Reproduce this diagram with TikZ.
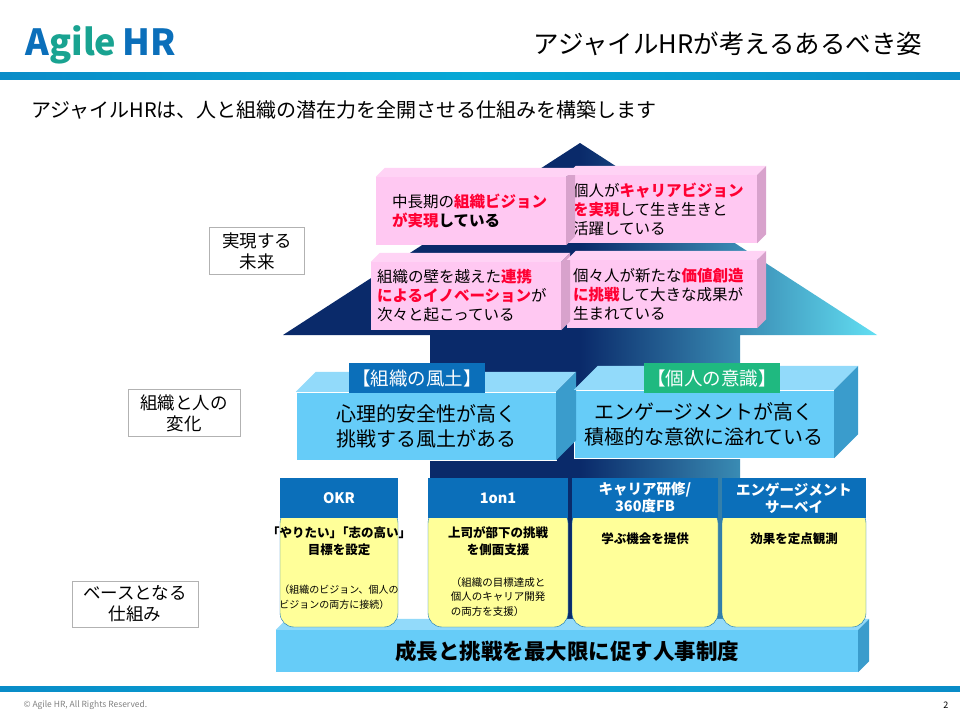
\documentclass[tikz,border=0pt]{standalone}
\usepackage{fontspec}
\setmainfont{Noto Sans CJK JP}
\usetikzlibrary{positioning}
\definecolor{navy}{HTML}{0A2A6A}
\definecolor{skyc}{HTML}{66E6F8}
\definecolor{hrblue}{HTML}{0B6FBA}
\definecolor{hrgreen}{HTML}{1FB980}
\definecolor{pinkf}{HTML}{FFC8F2}
\definecolor{pinks}{HTML}{D8A2CC}
\definecolor{bluef}{HTML}{66CCF8}
\definecolor{bluet}{HTML}{92DAFA}
\definecolor{blues}{HTML}{3A9CCC}
\definecolor{yel}{HTML}{FFFF99}
\definecolor{hot}{HTML}{FF0033}
\pgfdeclarehorizontalshading{arrowshade}{100bp}{color(0bp)=(navy); color(50bp)=(navy); color(76bp)=(skyc); color(100bp)=(skyc)}
\pgfdeclarehorizontalshading{barshade}{100bp}{color(0bp)=(hrblue); color(50bp)=(hrblue!60!cyan); color(100bp)=(hrblue)}
% 3D faces on a named front node: #1 node, #2 depth, #3 top colour, #4 side colour
\newcommand\slabfaces[4]{%
  \fill[#3] (#1.north west) -- ++(#2,-#2) -- ([shift={(#2,-#2)}]#1.north east) -- (#1.north east) -- cycle;
  \fill[#4] (#1.north east) -- ++(#2,-#2) -- ([shift={(#2,-#2)}]#1.south east) -- (#1.south east) -- cycle;
}
\begin{document}
\begin{tikzpicture}[x=1pt,y=-1pt,
	label/.style={
		rectangle,
		draw=gray!60,
		fill=white,
		align=center,
		font=\fontsize{17.5}{21}\selectfont,
		inner sep=5pt
	},
	pinkbox/.style={
		rectangle,
		fill=pinkf,
		align=left,
		text width=178pt,
		inner xsep=5pt,
		minimum width=190pt,
		minimum height=68pt,
		font=\fontsize{15.5}{19}\selectfont
	},
	bluebox/.style={
		rectangle,
		fill=bluef,
		draw=white,
		align=center,
		minimum width=260pt,
		minimum height=68pt,
		font=\fontsize{20}{25}\selectfont
	},
	tag/.style={
		rectangle,
		text=white,
		minimum width=132pt,
		minimum height=30pt,
		font=\fontsize{18.5}{20}\selectfont
	},
	head/.style={
		rectangle,
		fill=hrblue,
		text=white,
		align=center,
		minimum height=40pt,
		font=\bfseries\fontsize{14.5}{17}\selectfont
	},
	body/.style={
		rectangle,
		fill=yel,
		draw=hrblue,
		rounded corners=14pt,
		minimum height=118pt
	},
	small/.style={
		align=center,
		font=\bfseries\fontsize{12.5}{17}\selectfont
	},
	note/.style={
		align=left,
		font=\fontsize{10.5}{14.5}\selectfont
	}
]
\useasboundingbox (0,0) rectangle (960,720);

% Header
\node[anchor=west, font=\bfseries\fontsize{36}{36}\selectfont] (logo) at (22,45)
	{\textcolor{hrblue}{A}\textcolor{hrgreen!70!hrblue}{gile}\,\textcolor{hrblue}{HR}};
\node[anchor=east, font=\fontsize{25.5}{28}\selectfont] (title) at (926,44) {アジャイルHRが考えるあるべき姿};
\shade[shading=barshade] (0,72) rectangle (960,79);
\node[anchor=west, font=\fontsize{20}{24}\selectfont] (lead) at (28,110) {アジャイルHRは、人と組織の潜在力を全開させる仕組みを構築します};

% Arrow
\shade[shading=arrowshade] (580,143) -- (877,335) -- (740,335) -- (740,622)
	-- (430,622) -- (430,335) -- (283,335) -- cycle;

% Level labels
\node[label, minimum width=95pt] (lfuture) at (257,251) {実現する\\未来};
\node[label, minimum width=112pt] (lchange) at (184,413) {組織と人の\\変化};
\node[label, minimum width=126pt] (lbase) at (135,604) {ベースとなる\\仕組み};

% Future boxes
\node[pinkbox] (vis1) at (471,211) {\hspace*{10pt}中長期の\textcolor{hot}{\bfseries 組織ビジョン}\\\hspace*{10pt}\textcolor{hot}{\bfseries が実現}{\bfseries している}};
\node[pinkbox] (vis2) at (662,209) {個人が\textcolor{hot}{\bfseries キャリアビジョン}\\\textcolor{hot}{\bfseries を実現}して生き生きと\\活躍している};
\node[pinkbox] (vis3) at (466,296) {組織の壁を越えた\textcolor{hot}{\bfseries 連携}\\\textcolor{hot}{\bfseries によるイノベーション}が\\次々と起こっている};
\node[pinkbox] (vis4) at (662,294) {個々人が新たな\textcolor{hot}{\bfseries 価値創造}\\\textcolor{hot}{\bfseries に挑戦}して大きな成果が\\生まれている};
\foreach \v in {vis1, vis2, vis3, vis4} {
	\slabfaces{\v}{9}{pinkf!80!white}{pinks}
}

% Change boxes
\node[bluebox] (culture) at (426,426) {心理的安全性が高く\\挑戦する風土がある};
\node[bluebox] (mind) at (704,424) {エンゲージメントが高く\\積極的な意欲に溢れている};
\slabfaces{culture}{20}{bluet}{blues}
\slabfaces{mind}{24}{bluet}{blues}
\node[tag, fill=hrblue] (tculture) at (417,378) {【組織の風土】};
\node[tag, fill=hrgreen] (tmind) at (712,378) {【個人の意識】};

% Base slab
\node[rectangle, fill=bluef, minimum width=582pt, minimum height=42pt,
	font=\bfseries\fontsize{21.5}{24}\selectfont] (system) at (567,651) {成長と挑戦を最大限に促す人事制度};
\slabfaces{system}{11}{bluet}{blues}

% Columns
\foreach \n/\x/\w/\h in {okr/339/118/OKR, one/498/140/1on1, car/645/146/{キャリア研修/\\360度FB}, eng/794/144/{エンゲージメント\\サーベイ}} {
	\node[body, minimum width=\w pt] (b\n) at (\x,568) {};
	\node[head, minimum width=\w pt] (h\n) at (\x,498) {\h};
}
\node[small] (tokr) at (339,541) {「やりたい」\hspace{-6pt}「志の高い」\\目標を設定};
\node[note, font=\fontsize{10}{14.5}\selectfont] (nokr) at (339,597) {（組織のビジョン、個人の\\ビジョンの両方に接続）};
\node[small] (tone) at (498,541) {上司が部下の挑戦\\を側面支援};
\node[note] (none) at (498,597) {（組織の目標達成と\\個人のキャリア開発\\の両方を支援）};
\node[small] (tcar) at (645,539) {学ぶ機会を提供};
\node[small] (teng) at (794,539) {効果を定点観測};

% Footer
\shade[shading=barshade] (0,686) rectangle (960,691);
\node[anchor=west, text=gray, font=\fontsize{8.5}{10}\selectfont] (copy) at (20,705) {© Agile HR, All Rights Reserved.};
\node[anchor=east, font=\fontsize{9}{10}\selectfont] (page) at (952,705) {2};
\end{tikzpicture}
\end{document}
